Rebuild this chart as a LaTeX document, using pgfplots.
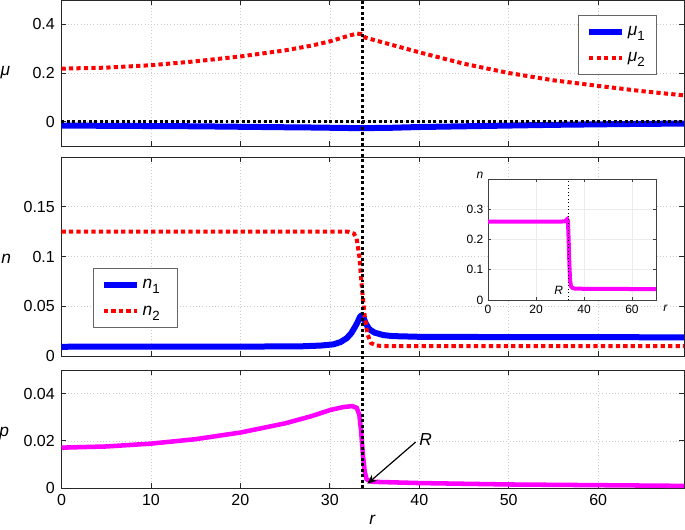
\documentclass[border=0pt]{standalone}
\usepackage{pgfplots}
\pgfplotsset{compat=1.18}
\usepackage{fontspec}
\setmainfont{Liberation Sans}
\usetikzlibrary{arrows.meta}
\newcommand{\sub}[1]{\raisebox{-0.55ex}{\fontsize{10}{10}\selectfont #1}}
\definecolor{mblue}{RGB}{0,0,255}
\definecolor{mred}{RGB}{255,0,0}
\definecolor{mmag}{RGB}{255,0,255}
\pgfplotsset{
  mystyle/.style={
    scale only axis, width=466.9pt, xmin=0, xmax=69.6,
    axis line style={draw=black!85, line width=0.6pt},
    every tick/.style={black!85, line width=0.6pt},
    major tick length=3.75pt,
    tick align=inside,
    grid=major,
    grid style={dotted, gray!40, line width=0.4pt},
    xtick={0,10,...,60},
    /pgf/number format/assume math mode=true,
    ticklabel style={font=\fontsize{12}{14}\selectfont},
    xticklabel style={yshift=-1.5pt},
    yticklabel style={xshift=-1.5pt},
    label style={font=\fontsize{13}{15}\selectfont\itshape},
    scaled y ticks=false,
    yticklabel style={/pgf/number format/fixed, /pgf/number format/precision=3},
    clip=false,
    legend cell align=left,
    legend image code/.code={\draw[##1] (0pt,0pt) -- (24.75pt,0pt);},
  },
  mylegend/.style={draw=black!60, line width=0.5pt, font=\fontsize{13}{15}\selectfont, row sep=7.5pt, inner xsep=6pt, inner ysep=6pt},
  blackdot/.style={black, line width=2.25pt, dash pattern=on 2.2pt off 1.9pt, forget plot},
  reddot/.style={mred, line width=3pt, dash pattern=on 3.2pt off 2.4pt},
}
\pgfplotstableread{
r mu1 mu2
0 -0.016 0.218
5 -0.017 0.222
10 -0.018 0.232
15 -0.019 0.248
20 -0.021 0.268
25 -0.023 0.293
28 -0.024 0.313
30 -0.025 0.330
32 -0.026 0.352
33 -0.027 0.362
33.5 -0.027 0.360
34 -0.027 0.345
35 -0.026 0.335
37 -0.025 0.315
40 -0.022 0.285
45 -0.019 0.238
50 -0.016 0.200
55 -0.013 0.170
60 -0.011 0.147
65 -0.009 0.125
69.6 -0.008 0.108
}\mutab
\pgfplotstableread{
r n1
0 0.0093
20 0.0094
27 0.0098
29 0.0105
30.4 0.0117
31.2 0.014
31.9 0.018
32.4 0.023
32.8 0.029
33.1 0.034
33.35 0.039
33.55 0.041
33.75 0.039
34.0 0.033
34.4 0.027
35.0 0.0235
36 0.021
37 0.020
40 0.0193
50 0.019
69.6 0.0188
}\nonetab
\pgfplotstableread{
r n2
0 0.125
32 0.125
32.7 0.123
33.0 0.118
33.3 0.100
33.6 0.067
33.9 0.040
34.2 0.022
34.6 0.013
35.2 0.0105
36 0.010
69.6 0.010
}\ntwotab
\pgfplotstableread{
r p
0 0.0171
5 0.0176
10 0.0188
15 0.0207
20 0.0235
25 0.0274
28 0.0305
30 0.0330
31.5 0.0343
32.5 0.0347
33.0 0.0340
33.3 0.031
33.5 0.024
33.7 0.014
33.9 0.007
34.1 0.0038
34.5 0.0028
35 0.0026
40 0.0021
50 0.0015
60 0.0012
69.6 0.0009
}\ptab
\pgfplotstableread{
r n
0 0.259
30 0.259
32 0.260
33 0.267
33.3 0.262
33.6 0.200
33.9 0.120
34.2 0.065
34.6 0.045
35.2 0.040
36 0.038
40 0.037
70 0.036
}\ntab
\begin{document}
\begin{tikzpicture}
% panel 1
\begin{axis}[mystyle, at={(0pt,0pt)}, anchor=north west, height=109.5pt,
  ymin=-0.1, ymax=0.5, ytick={0,0.2,0.4}, xticklabels={},
  ylabel={μ}, ylabel style={rotate=-90, at={(axis description cs:-0.09,0.5)}, anchor=center},
  legend style={mylegend, at={(axis description cs:0.9566,0.897)}, anchor=north east}]
\addplot[mblue, line width=4.5pt] table[x=r, y=mu1] {\mutab};
\addlegendentry{\textit{μ}\sub{1}\kern1pt}
\addplot[reddot] table[x=r, y=mu2] {\mutab};
\addlegendentry{\textit{μ}\sub{2}\kern1pt}
\addplot[blackdot] coordinates {(0,0) (69.6,0)};
\addplot[blackdot] coordinates {(33.7,-0.145) (33.7,0.5)};
\end{axis}
% panel 2
\begin{axis}[mystyle, at={(0pt,-117.75pt)}, anchor=north west, height=149.25pt,
  ymin=0, ymax=0.2, ytick={0,0.05,0.1,0.15}, xticklabels={},
  ylabel={n}, ylabel style={rotate=-90, at={(axis description cs:-0.089,0.49)}, anchor=center},
  legend style={mylegend, at={(axis description cs:0.05,0.442)}, anchor=north west}]
\addplot[mblue, line width=4.5pt, line join=round] table[x=r, y=n1] {\nonetab};
\addlegendentry{\textit{n}\sub{1}\kern5pt}
\addplot[reddot] table[x=r, y=n2] {\ntwotab};
\addlegendentry{\textit{n}\sub{2}\kern5pt}
\addplot[blackdot] coordinates {(33.7,-0.014) (33.7,0.2)};
\end{axis}
% panel 3
\begin{axis}[mystyle, at={(0pt,-277.5pt)}, anchor=north west, height=88.5pt,
  ymin=0, ymax=0.05, ytick={0,0.02,0.04},
  ylabel={p}, ylabel style={rotate=-90, at={(axis description cs:-0.092,0.46)}, anchor=center},
  xlabel={r}, xlabel style={at={(axis description cs:0.499,-0.27)}, anchor=center}]
\addplot[mmag, line width=3.4pt] table[x=r, y=p] {\ptab};
\addplot[blackdot] coordinates {(33.7,0) (33.7,0.05)};
\draw[black, line width=0.9pt, -{Stealth[length=7pt, width=6pt]}] (axis cs:39.6,0.0195) -- (axis cs:34.2,0.0018);
\node[font=\fontsize{13}{15}\selectfont\itshape, anchor=center] at (axis cs:40.7,0.0206) {R};
\end{axis}
% inset
\begin{axis}[scale only axis, at={(319.875pt,-134.25pt)}, anchor=north west, width=126pt, height=90.75pt,
  xmin=0, xmax=70, ymin=0, ymax=0.4, xtick={0,20,40,60}, ytick={0,0.1,0.2,0.3},
  axis background/.style={fill=white},
  axis line style={draw=black!75, line width=0.5pt},
  every tick/.style={black!75, line width=0.5pt},
  major tick length=2.5pt, tick align=inside,
  grid=major, grid style={solid, gray!15, line width=0.4pt},
  /pgf/number format/assume math mode=true,
  ticklabel style={font=\fontsize{9}{10}\selectfont},
  yticklabel style={/pgf/number format/fixed, /pgf/number format/precision=2},
  label style={font=\fontsize{9}{10}\selectfont\itshape},
  ylabel={n}, ylabel style={rotate=-90, at={(axis description cs:-0.048,1.033)}, anchor=center},
  xlabel={r}, xlabel style={at={(axis description cs:1.056,-0.065)}, anchor=center},
  clip=false]
\addplot[mmag, line width=3pt] table[x=r, y=n] {\ntab};
\addplot[black, line width=0.6pt, dotted] coordinates {(33.7,0) (33.7,0.4)};
\node[font=\fontsize{9}{10}\selectfont\itshape] at (axis cs:29.5,0.031) {R};
\end{axis}
\pgfresetboundingbox
\path[use as bounding box] (-46.125pt,0pt) rectangle (467.625pt,-396.75pt);
\end{tikzpicture}
\end{document}
